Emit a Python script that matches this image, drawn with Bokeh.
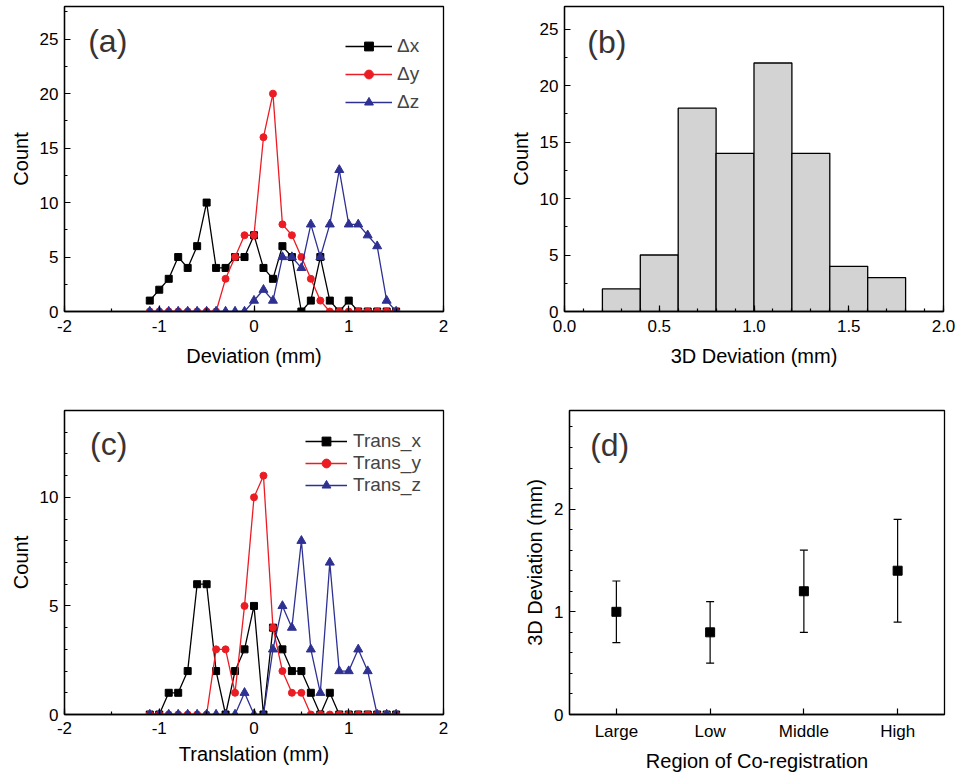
from bokeh.plotting import figure
from bokeh.layouts import column, row
from bokeh.models import (Label, SingleIntervalTicker, FixedTicker, Whisker,
                          ColumnDataSource, TeeHead, Range1d)
from bokeh.embed import file_html
from bokeh.resources import INLINE

# ---------------- data ----------------
bin_x = [-1.1, -1.0, -0.9, -0.8, -0.7, -0.6, -0.5, -0.4, -0.3, -0.2, -0.1, 0.0,
         0.1, 0.2, 0.3, 0.4, 0.5, 0.6, 0.7, 0.8, 0.9, 1.0, 1.1, 1.2, 1.3, 1.4, 1.5]
count_dx = [1, 2, 3, 5, 4, 6, 10, 4, 4, 5, 5, 7, 4, 3, 6, 5, 0, 1, 5, 1, 0, 1, 0, 0, 0, 0, 0]
count_dy = [0, 0, 0, 0, 0, 0, 0, 0, 3, 5, 7, 7, 16, 20, 8, 7, 5, 3, 1, 0, 0, 0, 0, 0, 0, 0, 0]
count_dz = [0, 0, 0, 0, 0, 0, 0, 0, 0, 0, 0, 1, 2, 1, 5, 5, 4, 8, 5, 8, 13, 8, 8, 7, 6, 1, 0]

trans_x = [0, 0, 1, 1, 2, 6, 6, 2, 0, 2, 3, 5, 0, 4, 3, 2, 2, 1, 0, 1, 0, 0, 0, 0, 0, 0, 0]
trans_y = [0, 0, 0, 0, 0, 0, 0, 3, 3, 1, 5, 10, 11, 4, 2, 1, 1, 0, 0, 0, 0, 0, 0, 0, 0, 0, 0]
trans_z = [0, 0, 0, 0, 0, 0, 0, 0, 0, 0, 1, 0, 0, 3, 5, 4, 8, 3, 1, 7, 2, 2, 3, 2, 0, 0, 0]

hist_left = [0.2, 0.4, 0.6, 0.8, 1.0, 1.2, 1.4, 1.6]
hist_right = [0.4, 0.6, 0.8, 1.0, 1.2, 1.4, 1.6, 1.8]
hist_count = [2, 5, 18, 14, 22, 14, 4, 3]

regions = ["Large", "Low", "Middle", "High"]
region_pos = [1, 2, 3, 4]
dev_mean = [1.0, 0.8, 1.2, 1.4]
dev_lower = [0.7, 0.5, 0.8, 0.9]
dev_upper = [1.3, 1.1, 1.6, 1.9]

x_tick_text = {-2: "-2", -1: "-1", 0: "0", 1: "1", 2: "2"}

# ---------------- style ----------------
FONT = "Liberation Sans"
BLACK = "#000000"
RED = "#ec1c24"
BLUE = "#2e3192"
PANEL_COLOR = "#3a3333"


def style(p, xlabel, ylabel, x_std=8, x_lab_std=10):
    p.grid.visible = False
    p.outline_line_color = "black"
    p.outline_line_width = 1.3
    p.background_fill_color = "white"
    p.border_fill_color = "white"
    for ax in (p.xaxis[0], p.yaxis[0]):
        ax.axis_line_width = 1.3
        ax.major_tick_in = 6
        ax.major_tick_out = 0
        ax.minor_tick_in = 3
        ax.minor_tick_out = 0
        ax.major_tick_line_width = 1.2
        ax.minor_tick_line_width = 1.2
        ax.major_label_text_font = FONT
        ax.major_label_text_font_size = "17px"
        ax.major_label_text_color = "black"
        ax.axis_label_text_font = FONT
        ax.axis_label_text_font_size = "20px"
        ax.axis_label_text_font_style = "normal"
        ax.axis_label_text_color = "black"
    p.xaxis.major_label_standoff = x_std
    p.xaxis.axis_label_standoff = x_lab_std
    p.yaxis.major_label_standoff = 6
    p.yaxis.axis_label_standoff = 5
    p.xaxis.axis_label = xlabel
    p.yaxis.axis_label = ylabel


def panel_label(p, text, x, y):
    p.add_layout(Label(x=x, y=y, text=text, text_font=FONT, text_font_size="32px",
                       text_color=PANEL_COLOR, text_baseline="middle", text_align="left"))


def line_panel(series, ylim, yminor, xlabel, label, lab_xy, legend_loc, glyph_w, spacing, standoff,
               width, height, borders, x_std, x_lab_std):
    p = figure(width=width, height=height, output_backend="svg", toolbar_location=None,
               x_range=Range1d(-2, 2), y_range=Range1d(0, ylim),
               min_border_left=borders[0], min_border_right=borders[1],
               min_border_top=borders[2], min_border_bottom=borders[3])
    style(p, xlabel, "Count", x_std, x_lab_std)
    p.xaxis.ticker = SingleIntervalTicker(interval=1, num_minor_ticks=2)
    p.xaxis.major_label_overrides = x_tick_text
    p.yaxis.ticker = SingleIntervalTicker(interval=5, num_minor_ticks=yminor)
    for name, ys, color, marker, size in series:
        p.line(bin_x, ys, color=color, line_width=1.3, legend_label=name)
        p.scatter(bin_x, ys, marker=marker, size=size, color=color, legend_label=name)
    lg = p.legend[0]
    lg.location = legend_loc
    lg.border_line_color = None
    lg.background_fill_alpha = 0
    lg.padding = 0
    lg.margin = 0
    lg.spacing = spacing
    lg.glyph_width = glyph_w
    lg.glyph_height = 22
    lg.label_height = 22
    lg.label_standoff = standoff
    lg.label_text_font = FONT
    lg.label_text_font_size = "19px"
    lg.label_text_baseline = "middle"
    panel_label(p, label, *lab_xy)
    return p


# (a)
pa = line_panel([("\u0394x", count_dx, BLACK, "square", 7),
                 ("\u0394y", count_dy, RED, "circle", 7),
                 ("\u0394z", count_dz, BLUE, "triangle", 9)],
                28, 2, "Deviation (mm)", "(a)", (-1.75, 24.8), (281, 198), 47, 6, 5,
                483, 380, (64, 40, 6, 69), 8, 10)

# (b)
pb = figure(width=484, height=380, output_backend="svg", toolbar_location=None,
            x_range=Range1d(0, 2), y_range=Range1d(0, 27),
            min_border_left=81, min_border_right=24, min_border_top=6, min_border_bottom=69)
style(pb, "3D Deviation (mm)", "Count")
pb.xaxis.ticker = SingleIntervalTicker(interval=0.5, num_minor_ticks=5)
pb.yaxis.ticker = SingleIntervalTicker(interval=5, num_minor_ticks=2)
pb.xaxis.major_label_overrides = {0: "0.0", 0.5: "0.5", 1: "1.0", 1.5: "1.5", 2: "2.0"}
pb.quad(left=hist_left, right=hist_right, top=hist_count, bottom=0,
        fill_color="#d3d3d3", line_color="black", line_width=1.3)
panel_label(pb, "(b)", 0.12, 23.9)

# (c)
pc = line_panel([("Trans_x", trans_x, BLACK, "square", 7),
                 ("Trans_y", trans_y, RED, "circle", 7),
                 ("Trans_z", trans_z, BLUE, "triangle", 9)],
                14, 5, "Translation (mm)", "(c)", (-1.73, 12.44), (241, 218), 42, 0, 6,
                483, 394, (64, 40, 30, 59), 7, 6)

# (d)
pd = figure(width=484, height=394, output_backend="svg", toolbar_location=None,
            x_range=Range1d(0.5, 4.5), y_range=Range1d(0, 2.96),
            min_border_left=86, min_border_right=23, min_border_top=30, min_border_bottom=59)
style(pd, "Region of Co-registration", "3D Deviation (mm)", 7, 6)
pd.xaxis.ticker = FixedTicker(ticks=region_pos)
pd.xaxis.major_label_overrides = {pos: name for pos, name in zip(region_pos, regions)}
pd.yaxis.ticker = SingleIntervalTicker(interval=1, num_minor_ticks=5)
src = ColumnDataSource(dict(x=region_pos, y=dev_mean, lo=dev_lower, hi=dev_upper))
pd.add_layout(Whisker(source=src, base="x", lower="lo", upper="hi",
                      line_color="black", line_width=1.2,
                      upper_head=TeeHead(size=8, line_color="black", line_width=1.2),
                      lower_head=TeeHead(size=8, line_color="black", line_width=1.2)))
pd.scatter("x", "y", source=src, marker="square", size=9, color="black")
panel_label(pd, "(d)", 0.72, 2.62)

layout = column(row(pa, pb), row(pc, pd))
open("out.html", "w").write(file_html(layout, INLINE))
